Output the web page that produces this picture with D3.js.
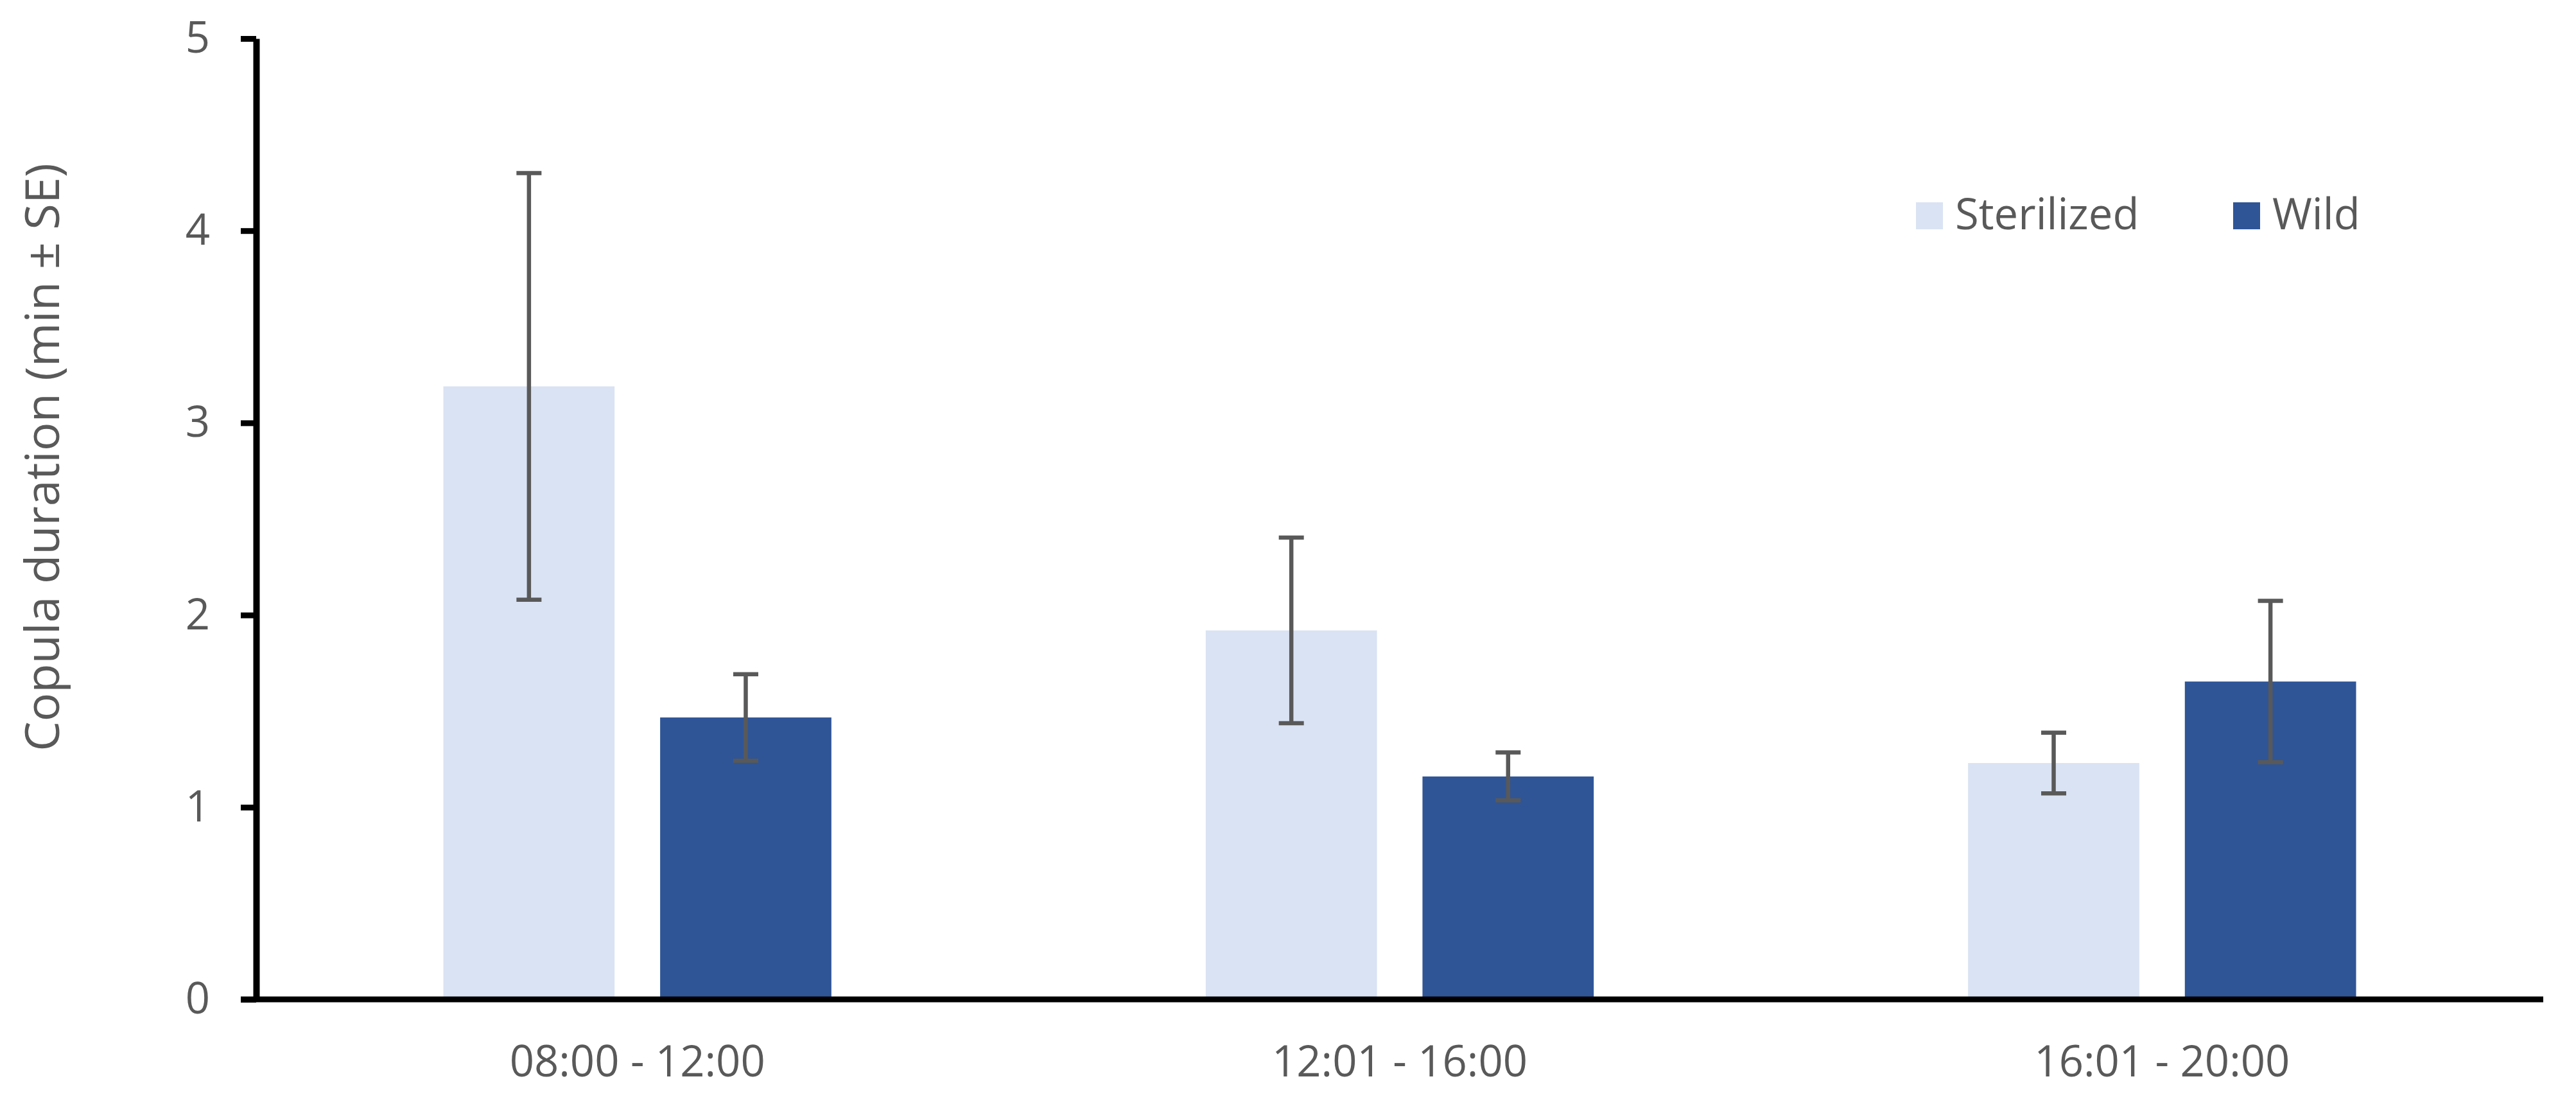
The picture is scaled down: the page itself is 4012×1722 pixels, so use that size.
<!DOCTYPE html>
<html lang="en">
<head>
  <meta charset="UTF-8">
  <title>Copula duration by time of day</title>
  <script src="https://d3js.org/d3.v7.min.js"></script>
  <style>
    body {
      margin: 0;
      background: #fff;
    }
    text {
      font-family: 'Open Sans', sans-serif;
      fill: #595959;
    }
  </style>
</head>
<body>
  <svg id="chart" width="4012" height="1722"></svg>

  <script>
    // data
    const periods = ["08:00 - 12:00", "12:01 - 16:00", "16:01 - 20:00"];
    const seriesNames = ["Sterilized", "Wild"];
    const sterilized = [3.19, 1.92, 1.23];
    const sterilizedSE = [1.11, 0.483, 0.158];
    const wild = [1.467, 1.16, 1.654];
    const wildSE = [0.225, 0.125, 0.42];
    const yTicks = [0, 1, 2, 3, 4, 5];

    const colors = {"Sterilized": "#DAE3F3", "Wild": "#2F5597"};

    const rows = periods.map((p, i) => ({
      period: p,
      values: [
        {series: "Sterilized", value: sterilized[i], se: sterilizedSE[i]},
        {series: "Wild", value: wild[i], se: wildSE[i]}
      ]
    }));

    const svg = d3.select("#chart");
    const plotLeft = 399, plotRight = 3961, plotTop = 60, plotBottom = 1556;
    const fontSize = 67;

    const x0 = d3.scaleBand()
      .domain(periods)
      .range([plotLeft, plotRight])
      .padding(0);

    const bw = x0.bandwidth();
    const x1 = d3.scaleBand()
      .domain(seriesNames)
      .range([bw * 0.2455, bw * 0.7545])
      .paddingInner(0.21)
      .paddingOuter(0);

    const y = d3.scaleLinear()
      .domain([0, 5])
      .range([plotBottom, plotTop]);

    // bars
    const groups = svg.append("g")
      .selectAll("g")
      .data(rows)
      .enter()
      .append("g")
      .attr("transform", d => `translate(${x0(d.period)},0)`);

    groups.selectAll("rect")
      .data(d => d.values)
      .enter()
      .append("rect")
      .attr("x", d => x1(d.series))
      .attr("y", d => y(d.value))
      .attr("width", x1.bandwidth())
      .attr("height", d => y(0) - y(d.value))
      .attr("fill", d => colors[d.series]);

    // error bars
    const capHalf = 19.5;
    const err = groups.selectAll("g.err")
      .data(d => d.values)
      .enter()
      .append("g")
      .attr("class", "err")
      .attr("stroke", "#595959")
      .attr("stroke-width", 6.5);

    err.append("line")
      .attr("x1", d => x1(d.series) + x1.bandwidth() / 2)
      .attr("x2", d => x1(d.series) + x1.bandwidth() / 2)
      .attr("y1", d => y(d.value + d.se))
      .attr("y2", d => y(d.value - d.se));

    err.append("line")
      .attr("x1", d => x1(d.series) + x1.bandwidth() / 2 - capHalf)
      .attr("x2", d => x1(d.series) + x1.bandwidth() / 2 + capHalf)
      .attr("y1", d => y(d.value + d.se))
      .attr("y2", d => y(d.value + d.se));

    err.append("line")
      .attr("x1", d => x1(d.series) + x1.bandwidth() / 2 - capHalf)
      .attr("x2", d => x1(d.series) + x1.bandwidth() / 2 + capHalf)
      .attr("y1", d => y(d.value - d.se))
      .attr("y2", d => y(d.value - d.se));

    // y axis
    const yAxis = svg.append("g")
      .attr("transform", `translate(${plotLeft},0)`)
      .call(d3.axisLeft(y).tickValues(yTicks).tickFormat(d3.format("d"))
        .tickSize(24).tickSizeOuter(0).tickPadding(48));
    yAxis.select(".domain").attr("stroke", "#000").attr("stroke-width", 10);
    yAxis.selectAll(".tick line").attr("stroke", "#000").attr("stroke-width", 9);
    yAxis.selectAll(".tick text")
      .style("font-size", fontSize + "px")
      .style("font-family", "'Open Sans', sans-serif")
      .attr("fill", "#595959");

    // x axis
    const xAxis = svg.append("g")
      .attr("transform", `translate(0,${plotBottom})`)
      .call(d3.axisBottom(x0).tickSize(0).tickSizeOuter(0).tickPadding(72));
    xAxis.select(".domain").attr("stroke", "#000").attr("stroke-width", 9)
      .attr("d", `M${plotLeft - 24},0H${plotRight}`);
    xAxis.selectAll(".tick text")
      .style("font-size", fontSize + "px")
      .style("font-family", "'Open Sans', sans-serif")
      .attr("fill", "#595959");

    // y axis title
    svg.append("text")
      .attr("transform", "translate(92,712) rotate(-90)")
      .attr("text-anchor", "middle")
      .style("font-size", "74px")
      .text("Copula duration (min \u00b1 SE)");

    // legend
    const legendX = [2984, 3478];
    const legend = svg.append("g")
      .selectAll("g")
      .data(seriesNames)
      .enter()
      .append("g")
      .attr("transform", (d, i) => `translate(${legendX[i]},315)`);

    legend.append("rect")
      .attr("width", 42)
      .attr("height", 42)
      .attr("fill", d => colors[d]);

    legend.append("text")
      .attr("x", 61)
      .attr("y", 42)
      .style("font-size", fontSize + "px")
      .text(d => d);
  </script>
</body>
</html>
